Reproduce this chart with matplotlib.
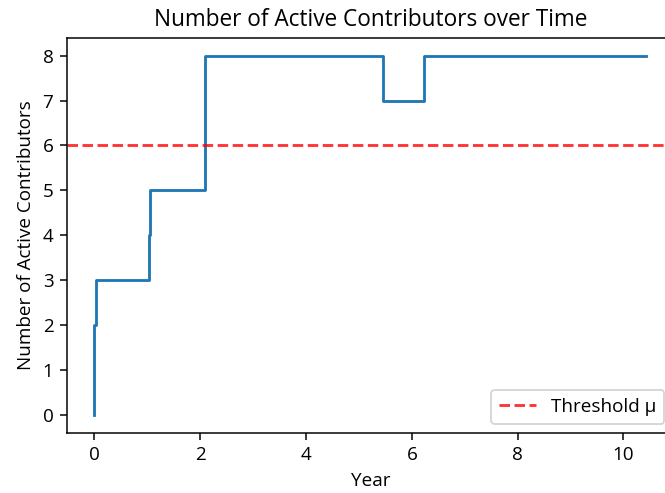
import matplotlib
matplotlib.use('Agg')
import matplotlib.pyplot as plt

plt.rcParams['font.family'] = ['Open Sans', 'DejaVu Sans']

# change points of the active contributor count (year, count)
years = [0.0, 0.0, 0.04, 1.04, 1.06, 2.09, 5.46, 6.23, 10.43]
active = [0, 2, 3, 4, 5, 8, 7, 8, 8]
threshold = 6

# rendered at a higher dpi so fonts/lines scale like the reference
DPI = 136
fig = plt.figure(figsize=(665 / DPI, 493 / DPI), dpi=DPI)
ax = fig.add_axes([0.1003, 0.1217, 0.913, 0.802])

ax.step(years, active, where='post')
ax.axhline(threshold, color='red', linestyle='--', alpha=0.8, label='Threshold μ')

ax.set_title('Number of Active Contributors over Time')
ax.set_xlabel('Year')
ax.set_ylabel('Number of Active Contributors')
ax.legend(loc='lower right')

fig.savefig('out.png', dpi=DPI)
